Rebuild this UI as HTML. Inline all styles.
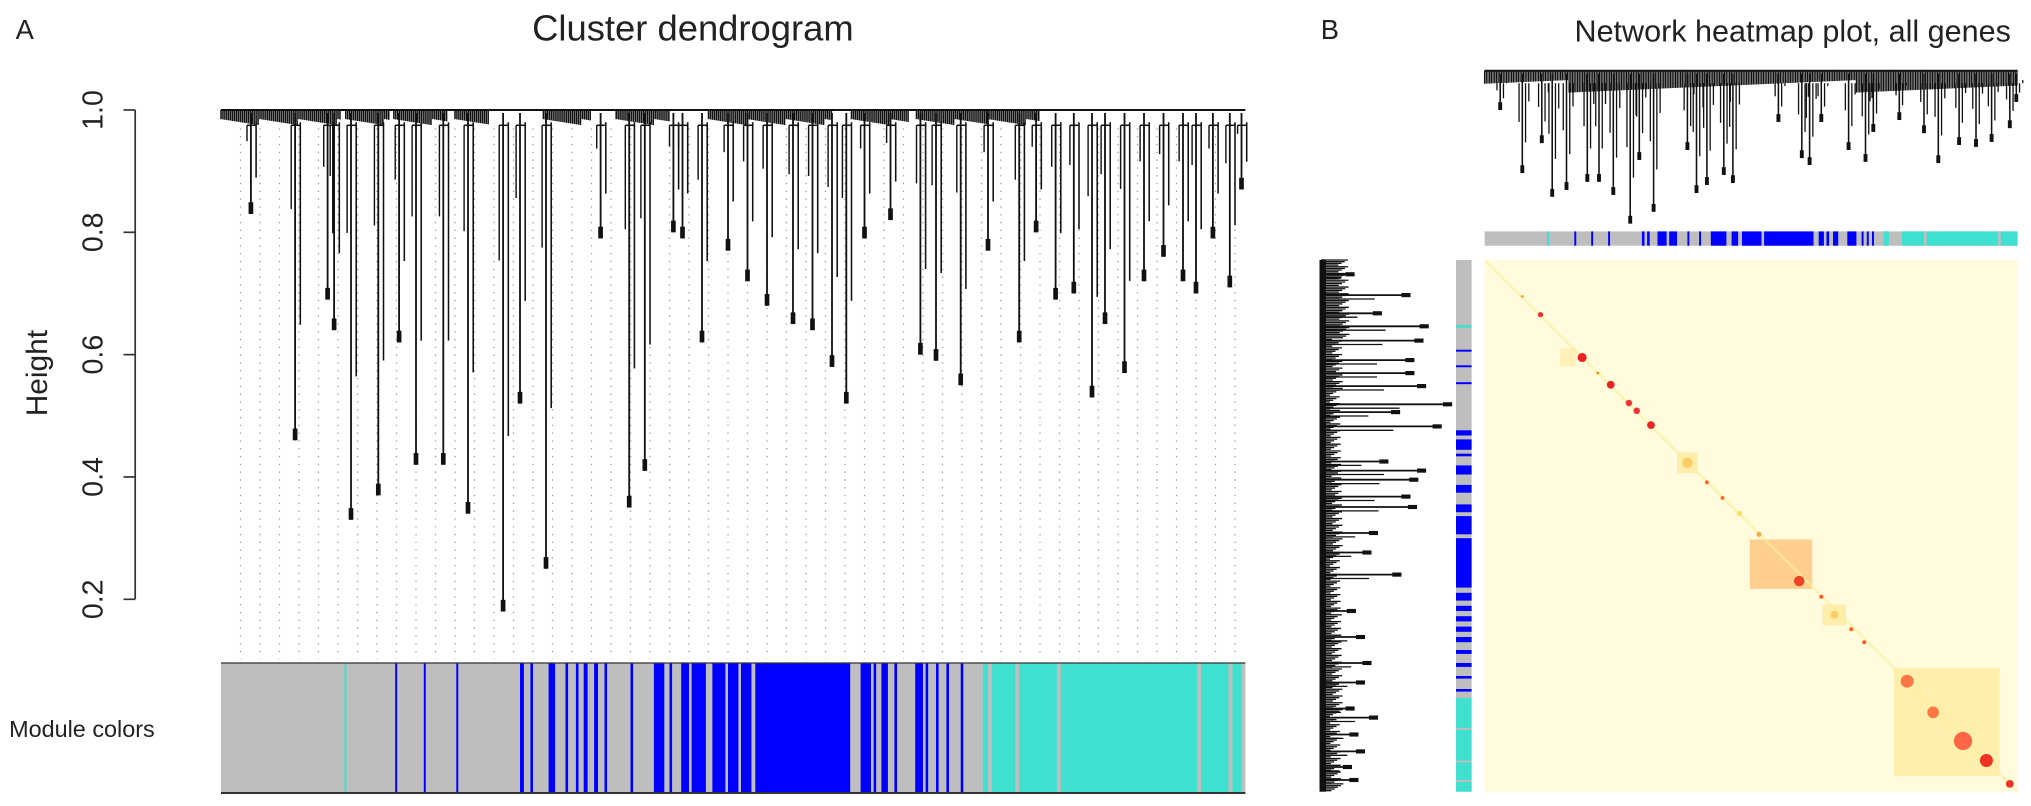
<!DOCTYPE html>
<html><head><meta charset="utf-8"><style>
html,body{margin:0;padding:0;background:#fff;width:2031px;height:806px;overflow:hidden}
svg{display:block}
text{font-family:"Liberation Sans",Arial,sans-serif;fill:#222}
</style></head><body>
<svg id="fig" width="2031" height="806" viewBox="0 0 1562.3 620">
<text x="12" y="30" font-size="21">A</text>
<text x="533" y="31" font-size="28" text-anchor="middle">Cluster dendrogram</text>
<text transform="translate(36,287) rotate(-90)" font-size="23" text-anchor="middle">Height</text>
<text x="7" y="567" font-size="18">Module colors</text>
<text x="1016" y="30" font-size="21">B</text>
<text x="1379" y="32" font-size="23.5" text-anchor="middle">Network heatmap plot, all genes</text>
<g id="gA"></g><g id="gB"></g>
</svg>
<script>
// ---- Panel A data ----
const yTicks=[0.2,0.4,0.6,0.8,1.0];
const tickLabels=["0.2","0.4","0.6","0.8","1.0"];
const leafPos=[193,227,252,257,270,291,307,320,341,360,387,400,420,462,484,496,518,525,540,560,575,590,610,625,640,651,665,685,708,720,739,760,784,797,812,826,840,850,865,880,895,910,920,933,946,955];
const leafHeight=[0.83,0.46,0.69,0.64,0.33,0.37,0.62,0.42,0.42,0.34,0.18,0.52,0.25,0.79,0.35,0.41,0.80,0.79,0.62,0.77,0.72,0.68,0.65,0.64,0.58,0.52,0.79,0.82,0.60,0.59,0.55,0.77,0.62,0.80,0.69,0.70,0.53,0.65,0.57,0.72,0.76,0.72,0.70,0.79,0.71,0.87];
const fringeStart=[170,266,303,350,418,474,545,655,705,760];
const fringeEnd=[262,300,345,376,455,515,640,700,760,800];
const modStart=[265,304,326,351,400,408,422,435,443,449,457,465,485,503,515,524,532,548,560,570,581,662,672,678,688,704,712,720,728,739,756];
const modEnd=[266.5,305.5,327.5,352.5,403,410,427,437,445,452,460,467,487,511,517,530,543,558,568,578,654,670,674,683,690,710,714,722,730,741,955];
const modColor=["#40e0d0","#0000ff","#0000ff","#0000ff","#0000ff","#0000ff","#0000ff","#0000ff","#0000ff","#0000ff","#0000ff","#0000ff","#0000ff","#0000ff","#0000ff","#0000ff","#0000ff","#0000ff","#0000ff","#0000ff","#0000ff","#0000ff","#0000ff","#0000ff","#0000ff","#0000ff","#0000ff","#0000ff","#0000ff","#0000ff","#40e0d0"];
const greyStrips=[760,781,813,921,945];
// ---- Panel B data ----
const bLeafPos=[1154,1171,1186,1194,1205,1221,1230,1241,1254,1272,1261,1298,1305,1313,1326,1333,1368,1386,1392,1401,1422,1435,1441,1461,1480,1491,1507,1520,1532,1546,1551];
const bLeafHeight=[.937,.836,.884,.798,.809,.822,.822,.801,.755,.774,.857,.873,.804,.817,.833,.820,.918,.860,.849,.918,.873,.854,.902,.921,.900,.852,.881,.878,.886,.908,.950];
const bBarStart=[1190,1211,1224,1237,1263,1267,1275,1284,1298,1307,1316,1332,1340,1357,1399,1405,1410,1421,1432,1436,1440,1449,1463];
const bBarEnd=[1191.5,1212.5,1225.5,1238.5,1265,1269,1282,1290,1299.5,1308.5,1328,1337,1355,1395,1403,1407,1414,1428,1433.5,1437.5,1441.5,1453,1552];
const bBarColor=["#40e0d0","#0000ff","#0000ff","#0000ff","#0000ff","#0000ff","#0000ff","#0000ff","#0000ff","#0000ff","#0000ff","#0000ff","#0000ff","#0000ff","#0000ff","#0000ff","#0000ff","#0000ff","#0000ff","#0000ff","#0000ff","#40e0d0","#40e0d0"];
const leftRowY=[211,227,241,251,262,277,287,297,311,317,328,355,362,369,382,390,410,425,442,470,490,510,525,545,552,565,578,590,600];
const leftRowEnd=[1042,1085,1063,1099,1095,1088,1088,1097,1117,1077,1109,1068,1097,1091,1085,1090,1060,1055,1078,1043,1050,1055,1050,1042,1060,1045,1050,1040,1045];
const lBarStart=[250,269,281,294,331,338,349,358,373,388,397,414,456,466,474,482,490,500,510,520,530,537];
const lBarEnd=[252,270.5,282.5,295.5,335,346,351,365,379,394,411,452,462,470,478,486,494,503,513,522,532,609];
const lBarColor=["#40e0d0","#0000ff","#0000ff","#0000ff","#0000ff","#0000ff","#0000ff","#0000ff","#0000ff","#0000ff","#0000ff","#0000ff","#0000ff","#0000ff","#0000ff","#0000ff","#0000ff","#0000ff","#0000ff","#0000ff","#0000ff","#40e0d0"];
const spotX=[1171,1185,1217,1229,1239,1253,1259,1270,1298,1313,1325,1338,1353,1384,1401,1411,1424,1434,1467,1487,1510,1528,1546];
const spotY=[228,242,275,287,296,310,316,327,356,371,383,395,411,447,459,473,484,494,524,548,570,585,603];
const spotR=[1,2,3.5,1,3,2.5,2.5,3,4,1.5,1.5,2,2,4,1.5,3,1.5,1.5,5,4.5,7,5,3];
const spotColor=["#f90","#e33","#e22","#f80","#e22","#e33","#e33","#e22","#fc6","#f62","#f62","#fd5","#fa4","#e42","#f52","#fc6","#f62","#f52","#f74","#f74","#f64","#e32","#e32"];
const blockX0=[1346,1457,1290,1402,1200];
const blockX1=[1394,1538,1306,1420,1212];
const blockY0=[415,514,348,465,268];
const blockY1=[453,597,364,481,282];
const blockColor=["#fe9a30","#ffe070","#ffe48a","#ffe48a","#ffeaa0"];
const blockOpacity=[0.45,0.45,0.6,0.6,0.6];

const NS="http://www.w3.org/2000/svg";
function mk(tag,attrs,parent){const e=document.createElementNS(NS,tag);for(const k in attrs)e.setAttribute(k,attrs[k]);parent.appendChild(e);return e;}
const gA=document.getElementById('gA'), gB=document.getElementById('gB');
const yA=h=>84.6+(1-h)*470.5;
const yB=h=>54.4+(1-h)*480;

let ax=mk('line',{x1:104,x2:104,y1:yA(1),y2:yA(0.2),stroke:'#333','stroke-width':1.3},gA);

yTicks.forEach((t,i)=>{
  const tk=mk('line',{x1:95,x2:104,y1:yA(t),y2:yA(t),stroke:'#333','stroke-width':1.3},gA);
  
  const tl=mk('text',{transform:`translate(${79},${yA(t)}) rotate(-90)`,'font-size':22,'text-anchor':'middle'},gA);
  tl.textContent=tickLabels[i];
  
});
for(let x=185;x<=958;x+=15){
  const d=mk('line',{x1:x,x2:x,y1:yA(0.97),y2:507,stroke:'#999','stroke-width':1,'stroke-dasharray':'1 5'},gA);
  
}
let tl=mk('line',{x1:170,x2:958,y1:yA(1),y2:yA(1),stroke:'#111','stroke-width':1.5},gA);

fringeStart.forEach((s,i)=>{
  const w=fringeEnd[i]-s;
  for(let k=0;k<w;k+=1.5){
    const l=mk('line',{x1:s+k,x2:s+k,y1:yA(1),y2:yA(0.985-((k*7)%10)/1000),stroke:'#111','stroke-width':1.2},gA);
    
  }
});
leafPos.forEach((x,i)=>{
  const h=leafHeight[i];
  const l=mk('line',{x1:x,x2:x,y1:yA(0.995),y2:yA(h),stroke:'#111','stroke-width':1.4},gA);
  
  const l2=mk('line',{x1:x+4,x2:x+4,y1:yA(0.98),y2:yA(h+(1-h)*0.35),stroke:'#111','stroke-width':1.2},gA);
  
  const l3=mk('line',{x1:x-3,x2:x-3,y1:yA(0.975),y2:yA(h+(1-h)*0.7),stroke:'#111','stroke-width':1.1},gA);
  
  const hk=mk('line',{x1:x-3,x2:x+4,y1:yA(0.975),y2:yA(0.975),stroke:'#111','stroke-width':1.2},gA);
  
  const tip=mk('rect',{x:x-1.8,y:yA(h)-9,width:3.6,height:9,fill:'#111'},gA);
  
});
let mb=mk('rect',{x:170,y:510,width:788,height:100,fill:'#bebebe'},gA);

modStart.forEach((s,i)=>{
  const r=mk('rect',{x:s,y:510,width:modEnd[i]-s,height:100,fill:modColor[i]},gA);
  
});
greyStrips.forEach(x=>{
  const r=mk('rect',{x:x,y:510,width:3,height:100,fill:'#bebebe'},gA);
  
});
mk('line',{x1:170,x2:958,y1:510,y2:510,stroke:'#333','stroke-width':1},gA);
mk('line',{x1:170,x2:958,y1:610,y2:610,stroke:'#333','stroke-width':1.5},gA);

// ---- Panel B ----
let br=mk('line',{x1:1142,x2:1552,y1:yB(1),y2:yB(1),stroke:'#111','stroke-width':1.5},gB);

for(let x=1142;x<1552;x+=1.3){
  const d=((x*13)%17)/17;
  const l=mk('line',{x1:x,x2:x,y1:yB(1),y2:yB(0.985-d*0.02),stroke:'#111','stroke-width':1},gB);
  
}
bLeafPos.forEach((x,i)=>{
  const h=bLeafHeight[i];
  const l=mk('line',{x1:x,x2:x,y1:yB(0.995),y2:yB(h),stroke:'#111','stroke-width':1.2},gB);
  
  [2.5,-2.5,5].forEach((o,k)=>{
    const l2=mk('line',{x1:x+o,x2:x+o,y1:yB(0.98),y2:yB(h+(1-h)*(0.3+0.2*k)),stroke:'#111','stroke-width':1},gB);
    
  });
  const tip=mk('rect',{x:x-1.5,y:yB(h)-6,width:3,height:6,fill:'#111'},gB);
  
});
let tb=mk('rect',{x:1142,y:178,width:410,height:11,fill:'#bebebe'},gB);

bBarStart.forEach((s,i)=>{
  const r=mk('rect',{x:s,y:178,width:bBarEnd[i]-s,height:11,fill:bBarColor[i]},gB);
  
});
[1480,1537].forEach(x=>{const r=mk('rect',{x:x,y:178,width:2,height:11,fill:'#bebebe'},gB);
  });
// left dendrogram
let ls=mk('rect',{x:1015,y:200,width:5,height:409,fill:'#111'},gB);

for(let y=200;y<609;y+=1.3){
  const d=((y*11)%19)/19;
  const l=mk('line',{x1:1016,x2:1023+d*10+(y<260?6:0),y1:y,y2:y,stroke:'#111','stroke-width':1},gB);
  
}
leftRowY.forEach((y,i)=>{
  const l=mk('line',{x1:1016,x2:leftRowEnd[i],y1:y,y2:y,stroke:'#111','stroke-width':1.4},gB);
  
  const l2=mk('line',{x1:1016,x2:1016+(leftRowEnd[i]-1016)*0.6,y1:y+3,y2:y+3,stroke:'#111','stroke-width':1},gB);
  
  const tip=mk('rect',{x:leftRowEnd[i]-7,y:y-1.6,width:7,height:3.2,fill:'#111'},gB);
  
});
let lb=mk('rect',{x:1120,y:200,width:12,height:409,fill:'#bebebe'},gB);

lBarStart.forEach((s,i)=>{
  const r=mk('rect',{x:1120,y:s,width:12,height:lBarEnd[i]-s,fill:lBarColor[i]},gB);
  
});
[560,585,600].forEach(y=>{const r=mk('rect',{x:1120,y:y,width:12,height:1.5,fill:'#bebebe'},gB);
  });
// heatmap
let hm=mk('rect',{x:1142,y:200,width:410,height:409,fill:'#fffbdc'},gB);

blockX0.forEach((x,i)=>{
  const r=mk('rect',{x:x,y:blockY0[i],width:blockX1[i]-x,height:blockY1[i]-blockY0[i],fill:blockColor[i],opacity:blockOpacity[i]},gB);
  
});
let dg=mk('line',{x1:1142,y1:200,x2:1552,y2:609,stroke:'#fe9','stroke-width':1.5,opacity:0.7},gB);

spotX.forEach((x,i)=>{
  const c=mk('circle',{cx:x,cy:spotY[i],r:spotR[i],fill:spotColor[i]},gB);
  
});
</script>
</body></html>
